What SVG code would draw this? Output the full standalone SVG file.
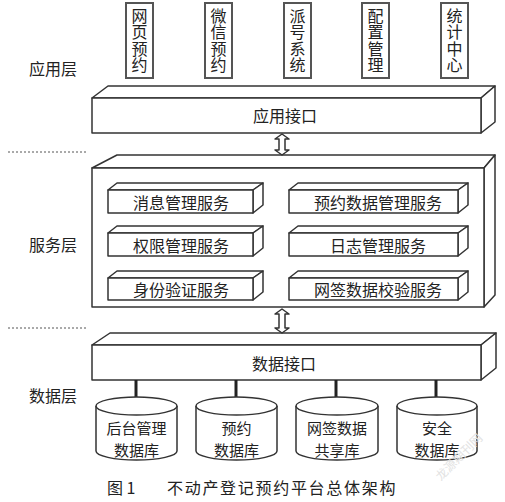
<svg xmlns="http://www.w3.org/2000/svg" width="505" height="502" viewBox="0 0 505 502">
<style>
.t{font-family:"Noto Sans CJK SC","Noto Sans",sans-serif;font-size:16px;fill:#222;text-anchor:middle;dominant-baseline:central}
.d{font-size:15px}
.v{font-family:"Noto Sans CJK SC","Noto Sans",sans-serif;font-size:16px;fill:#222;text-anchor:middle;writing-mode:vertical-rl;letter-spacing:0.5px}
.s{fill:#fff;stroke:#333;stroke-width:1.5;stroke-linejoin:round}
.app{fill:#fff;stroke:#555;stroke-width:2}
.dot{stroke:#555;stroke-width:1;stroke-dasharray:2 2}
.conn{stroke:#222;stroke-width:3}
.cap{font-family:"Noto Sans CJK SC","Liberation Serif",serif;font-size:16px;fill:#222;dominant-baseline:central}
</style>
<rect width="505" height="502" fill="#fff"/>
<g id="layer-labels">
<text class="t" x="53" y="68">应用层</text>
<text class="t" x="53" y="244">服务层</text>
<text class="t" x="53" y="395">数据层</text>
<line class="dot" x1="8" y1="152" x2="87" y2="152"/>
<line class="dot" x1="8" y1="328" x2="87" y2="328"/>
</g>
<g id="app-web"><rect class="app" x="126" y="3" width="27" height="75"/><text class="v" x="139.5" y="40.5">网页预约</text></g>
<g id="app-wechat"><rect class="app" x="205" y="3" width="27" height="75"/><text class="v" x="218.5" y="40.5">微信预约</text></g>
<g id="app-queue"><rect class="app" x="284" y="3" width="27" height="75"/><text class="v" x="297.5" y="40.5">派号系统</text></g>
<g id="app-config"><rect class="app" x="362" y="3" width="27" height="75"/><text class="v" x="375.5" y="40.5">配置管理</text></g>
<g id="app-stats"><rect class="app" x="441" y="3" width="27" height="75"/><text class="v" x="454.5" y="40.5">统计中心</text></g>
<g id="app-interface">
<polygon class="s" points="92,98 108,86 495,86 481,98"/>
<polygon class="s" points="481,98 495,86 495,122 481,133"/>
<rect class="s" x="92" y="98" width="389" height="35"/>
<text class="t" x="285" y="115">应用接口</text>
</g>
<g id="service-layer">
<polygon class="s" points="92,168 117,155 495,155 484,168"/>
<polygon class="s" points="484,168 495,155 495,295 484,307"/>
<rect class="s" x="92" y="168" width="392" height="139"/>
</g>
<g id="svc-msg">
<polygon class="s" points="108,190 117,183 263,183 253,190"/><polygon class="s" points="253,190 263,183 263,205 253,213"/><rect class="s" x="108" y="190" width="145" height="23"/>
<text class="t" x="181" y="201.5">消息管理服务</text></g>
<g id="svc-auth">
<polygon class="s" points="108,233 117,226 263,226 253,233"/><polygon class="s" points="253,233 263,226 263,248 253,256"/><rect class="s" x="108" y="233" width="145" height="23"/>
<text class="t" x="181" y="244.5">权限管理服务</text></g>
<g id="svc-id">
<polygon class="s" points="108,278 117,271 263,271 253,278"/><polygon class="s" points="253,278 263,271 263,292 253,300"/><rect class="s" x="108" y="278" width="145" height="22"/>
<text class="t" x="181" y="289">身份验证服务</text></g>
<g id="svc-appt">
<polygon class="s" points="289,190 298,183 468,183 458,190"/><polygon class="s" points="458,190 468,183 468,205 458,213"/><rect class="s" x="289" y="190" width="169" height="23"/>
<text class="t" x="378" y="201.5">预约数据管理服务</text></g>
<g id="svc-log">
<polygon class="s" points="289,233 298,226 468,226 458,233"/><polygon class="s" points="458,233 468,226 468,248 458,256"/><rect class="s" x="289" y="233" width="169" height="23"/>
<text class="t" x="378" y="244.5">日志管理服务</text></g>
<g id="svc-sign">
<polygon class="s" points="289,278 298,271 468,271 458,278"/><polygon class="s" points="458,278 468,271 468,292 458,300"/><rect class="s" x="289" y="278" width="169" height="22"/>
<text class="t" x="378" y="289">网签数据校验服务</text></g>
<g id="data-interface">
<polygon class="s" points="92,345 110,333 496,333 481,345"/>
<polygon class="s" points="481,345 496,333 496,368 481,380"/>
<rect class="s" x="92" y="345" width="389" height="35"/>
<text class="t" x="284" y="363">数据接口</text>
</g>
<g id="connectors">
<path class="s" d="M282,134 L289,139 L285,139 L285,150 L289,150 L282,155 L275,150 L279,150 L279,139 L275,139 Z"/>
<path class="s" d="M282,309 L289,314 L285,314 L285,328 L289,328 L282,333 L275,328 L279,328 L279,314 L275,314 Z"/>
<line class="conn" x1="136" y1="380" x2="136" y2="398"/>
<line class="conn" x1="236" y1="380" x2="236" y2="398"/>
<line class="conn" x1="336" y1="380" x2="336" y2="398"/>
<line class="conn" x1="436" y1="380" x2="436" y2="398"/>
</g>
<g id="db-admin">
<path class="s" d="M96,406 L96,451 A40.5,9 0 0 0 177,451 L177,406"/><ellipse class="s" cx="136.5" cy="406" rx="40.5" ry="9"/>
<text class="t d"><tspan x="136.5" y="427">后台管理</tspan><tspan x="136.5" y="449">数据库</tspan></text></g>
<g id="db-appt">
<path class="s" d="M196,406 L196,451 A40.5,9 0 0 0 277,451 L277,406"/><ellipse class="s" cx="236.5" cy="406" rx="40.5" ry="9"/>
<text class="t d"><tspan x="236.5" y="427">预约</tspan><tspan x="236.5" y="449">数据库</tspan></text></g>
<g id="db-share">
<path class="s" d="M296,406 L296,451 A41,9 0 0 0 378,451 L378,406"/><ellipse class="s" cx="337" cy="406" rx="41" ry="9"/>
<text class="t d"><tspan x="337" y="427">网签数据</tspan><tspan x="337" y="449">共享库</tspan></text></g>
<g id="db-sec">
<path class="s" d="M397,406 L397,451 A40,9 0 0 0 477,451 L477,406"/><ellipse class="s" cx="437" cy="406" rx="40" ry="9"/>
<text class="t d"><tspan x="437" y="427">安全</tspan><tspan x="437" y="449">数据库</tspan></text></g>
<g id="caption">
<text class="cap" x="107" y="487">图 1</text>
<text class="cap" x="167" y="487" letter-spacing="1.7">不动产登记预约平台总体架构</text>
<text x="462" y="460" transform="rotate(-45 462 460)" font-family="Noto Sans CJK SC,sans-serif" font-size="12" fill="#e2e2e2" text-anchor="middle">龙源期刊网</text>
</g>
</svg>
